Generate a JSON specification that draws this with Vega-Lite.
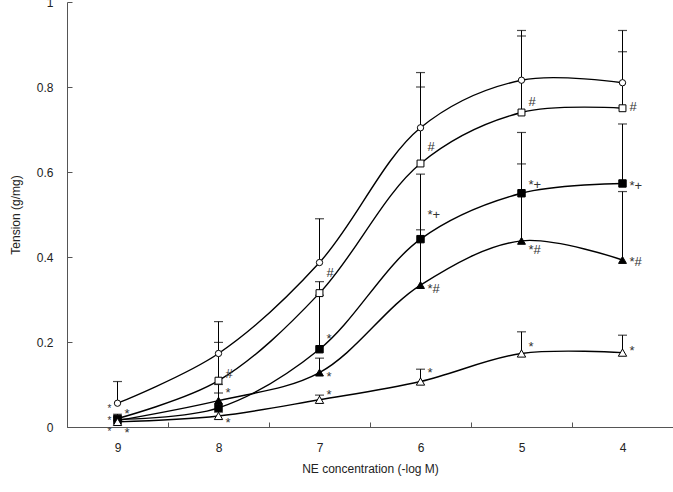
{
  "$schema": "https://vega.github.io/schema/vega-lite/v6.json",
  "width": 606,
  "height": 425,
  "autosize": "none",
  "padding": {"left": 67, "top": 2, "right": 0, "bottom": 65},
  "background": "white",
  "config": {
    "view": {"stroke": null},
    "font": "Liberation Sans",
    "axis": {
      "domainColor": "#555",
      "tickColor": "#555",
      "labelColor": "#222",
      "titleColor": "#222",
      "labelFont": "Liberation Sans",
      "titleFont": "Liberation Sans",
      "labelFontSize": 12,
      "titleFontSize": 12,
      "titleFontWeight": "normal",
      "grid": false
    }
  },
  "datasets": {
    "points": [
      {"conc": "9", "group": "G1", "mean": 0.056, "upper": 0.107},
      {"conc": "8", "group": "G1", "mean": 0.173, "upper": 0.248},
      {"conc": "7", "group": "G1", "mean": 0.387, "upper": 0.49},
      {"conc": "6", "group": "G1", "mean": 0.704, "upper": 0.834},
      {"conc": "5", "group": "G1", "mean": 0.816, "upper": 0.933},
      {"conc": "4", "group": "G1", "mean": 0.81, "upper": 0.933},
      {"conc": "9", "group": "G2", "mean": 0.02, "upper": 0.03},
      {"conc": "8", "group": "G2", "mean": 0.109, "upper": 0.199},
      {"conc": "7", "group": "G2", "mean": 0.315, "upper": 0.342},
      {"conc": "6", "group": "G2", "mean": 0.62, "upper": 0.8},
      {"conc": "5", "group": "G2", "mean": 0.74, "upper": 0.92},
      {"conc": "4", "group": "G2", "mean": 0.75, "upper": 0.883},
      {"conc": "9", "group": "G3", "mean": 0.018, "upper": 0.026},
      {"conc": "8", "group": "G3", "mean": 0.045, "upper": 0.1},
      {"conc": "7", "group": "G3", "mean": 0.183, "upper": 0.31},
      {"conc": "6", "group": "G3", "mean": 0.442, "upper": 0.595},
      {"conc": "5", "group": "G3", "mean": 0.55, "upper": 0.693},
      {"conc": "4", "group": "G3", "mean": 0.573, "upper": 0.713},
      {"conc": "9", "group": "G4", "mean": 0.015, "upper": 0.022},
      {"conc": "8", "group": "G4", "mean": 0.062, "upper": 0.08},
      {"conc": "7", "group": "G4", "mean": 0.128, "upper": 0.162},
      {"conc": "6", "group": "G4", "mean": 0.334, "upper": 0.464},
      {"conc": "5", "group": "G4", "mean": 0.438, "upper": 0.619},
      {"conc": "4", "group": "G4", "mean": 0.393, "upper": 0.554},
      {"conc": "9", "group": "G5", "mean": 0.012, "upper": 0.016},
      {"conc": "8", "group": "G5", "mean": 0.026, "upper": 0.035},
      {"conc": "7", "group": "G5", "mean": 0.064, "upper": 0.075},
      {"conc": "6", "group": "G5", "mean": 0.107, "upper": 0.136},
      {"conc": "5", "group": "G5", "mean": 0.173, "upper": 0.224},
      {"conc": "4", "group": "G5", "mean": 0.175, "upper": 0.216}
    ],
    "notesRight": [
      {"conc": "8", "y": 0.13, "label": "#"},
      {"conc": "7", "y": 0.366, "label": "#"},
      {"conc": "6", "y": 0.664, "label": "#"},
      {"conc": "5", "y": 0.77, "label": "#"},
      {"conc": "4", "y": 0.757, "label": "#"},
      {"conc": "8", "y": 0.085, "label": "*"},
      {"conc": "7", "y": 0.211, "label": "*"},
      {"conc": "6", "y": 0.503, "label": "*+"},
      {"conc": "5", "y": 0.575, "label": "*+"},
      {"conc": "4", "y": 0.572, "label": "*+"},
      {"conc": "7", "y": 0.122, "label": "*"},
      {"conc": "6", "y": 0.329, "label": "*#"},
      {"conc": "5", "y": 0.421, "label": "*#"},
      {"conc": "4", "y": 0.393, "label": "*#"},
      {"conc": "8", "y": 0.014, "label": "*"},
      {"conc": "7", "y": 0.081, "label": "*"},
      {"conc": "6", "y": 0.132, "label": "*"},
      {"conc": "5", "y": 0.193, "label": "*"},
      {"conc": "4", "y": 0.183, "label": "*"},
      {"conc": "9", "y": 0.035, "label": "*"},
      {"conc": "9", "y": -0.01, "label": "*"}
    ],
    "notesLeft": [
      {"conc": "9", "y": 0.046, "label": "*"},
      {"conc": "9", "y": 0.02, "label": "*"},
      {"conc": "9", "y": -0.006, "label": "*"}
    ]
  },
  "encoding": {
    "x": {
      "field": "conc",
      "type": "ordinal",
      "sort": ["9", "8", "7", "6", "5", "4"],
      "scale": {"type": "band", "paddingInner": 0, "paddingOuter": 0},
      "axis": {
        "title": "NE concentration (-log M)",
        "labelAngle": 0,
        "tickBand": "extent",
        "tickSize": -5,
        "labelPadding": 20,
        "titlePadding": 10
      }
    }
  },
  "layer": [
    {
      "data": {"name": "points"},
      "mark": {"type": "rule", "color": "black", "strokeWidth": 1},
      "encoding": {
        "y": {
          "field": "mean",
          "type": "quantitative",
          "scale": {"domain": [0, 1], "nice": false, "clamp": false},
          "axis": {
            "title": "Tension (g/mg)",
            "values": [0, 0.2, 0.4, 0.6, 0.8, 1],
            "labelExpr": "datum.value",
            "tickSize": -5,
            "labelPadding": 19,
            "titlePadding": 14
          }
        },
        "y2": {"field": "upper"}
      }
    },
    {
      "data": {"name": "points"},
      "mark": {"type": "tick", "color": "black", "size": 9, "thickness": 1.2, "orient": "horizontal"},
      "encoding": {
        "y": {"field": "upper", "type": "quantitative"}
      }
    },
    {
      "data": {"name": "points"},
      "mark": {"type": "line", "color": "black", "strokeWidth": 1.4, "interpolate": "catmull-rom"},
      "encoding": {
        "y": {"field": "mean", "type": "quantitative"},
        "detail": {"field": "group"}
      }
    },
    {
      "data": {"name": "points"},
      "mark": {"type": "point", "filled": true, "stroke": "black", "strokeWidth": 1, "opacity": 1},
      "encoding": {
        "y": {"field": "mean", "type": "quantitative"},
        "shape": {
          "field": "group",
          "type": "nominal",
          "scale": {"domain": ["G1", "G2", "G3", "G4", "G5"], "range": ["circle", "square", "square", "triangle-up", "triangle-up"]},
          "legend": null
        },
        "fill": {
          "field": "group",
          "type": "nominal",
          "scale": {"domain": ["G1", "G2", "G3", "G4", "G5"], "range": ["white", "white", "black", "black", "white"]},
          "legend": null
        },
        "size": {
          "field": "group",
          "type": "nominal",
          "scale": {"domain": ["G1", "G2", "G3", "G4", "G5"], "range": [40, 70, 70, 60, 60]},
          "legend": null
        }
      }
    },
    {
      "data": {"name": "notesRight"},
      "mark": {"type": "text", "align": "left", "baseline": "middle", "dx": 7, "dy": 2, "fontSize": 13, "color": "#333"},
      "encoding": {
        "y": {"field": "y", "type": "quantitative"},
        "text": {"field": "label"}
      }
    },
    {
      "data": {"name": "notesLeft"},
      "mark": {"type": "text", "align": "right", "baseline": "middle", "dx": -6, "dy": 2, "fontSize": 10, "color": "#333"},
      "encoding": {
        "y": {"field": "y", "type": "quantitative"},
        "text": {"field": "label"}
      }
    }
  ]
}
